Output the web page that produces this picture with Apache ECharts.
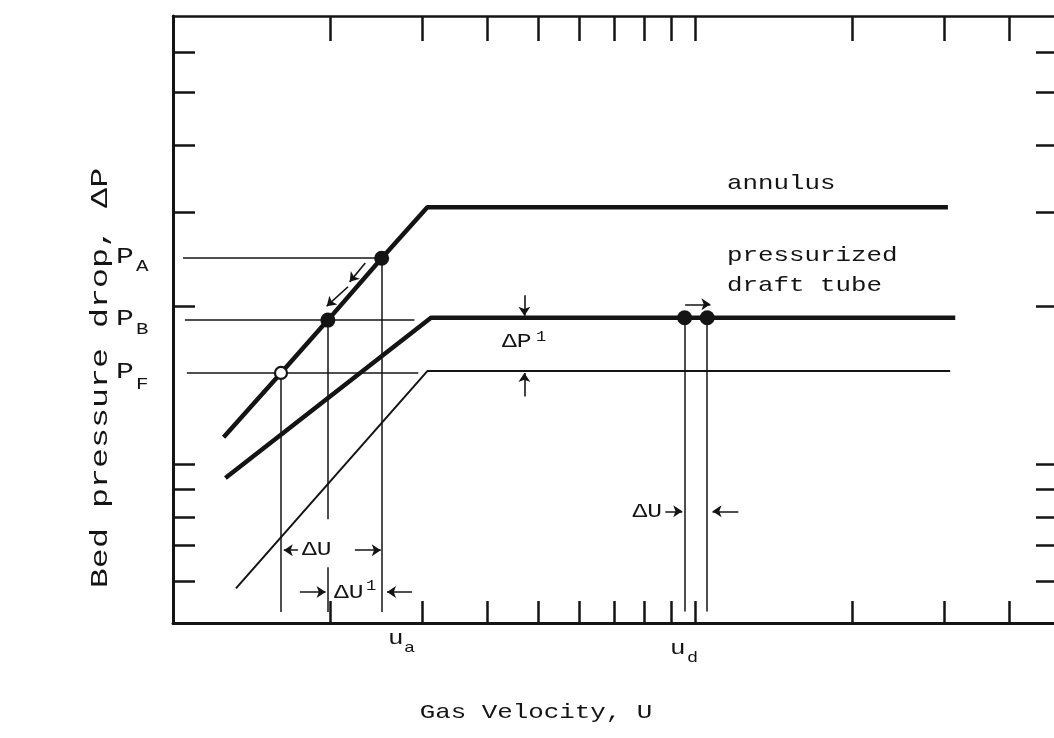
<!DOCTYPE html>
<html>
<head>
<meta charset="utf-8">
<script src="https://cdn.jsdelivr.net/npm/echarts@6/dist/echarts.min.js"></script>
<style>
  html, body { margin: 0; padding: 0; background: #fff; overflow: hidden; }
  #chart { width: 1054px; height: 738px; }
</style>
</head>
<body>
<div id="chart"></div>
<script>
// Gas velocity runs on a logarithmic scale; pressure drop in relative units (0-100).
const xTicks = [2, 3, 4, 5, 6, 7, 8, 9, 10, 20, 30, 40];
const yTicks = [6.8, 12.8, 17.5, 22, 26.1, 52.2, 67.7, 78.7, 87.4, 94];

// Bed pressure drop curves
const annulus   = [[1.25, 30.6], [1.61, 41.2], [1.98, 49.9], [2.51, 60.1], [3.07, 68.5], [30.5, 68.5]];
const draftTube = [[1.26, 23.9], [3.12, 50.3], [31.5, 50.3]];
const baseBed   = [[1.32, 5.7], [3.07, 41.5], [30.8, 41.5]];

// Operating points
const filledPoints = [[1.98, 49.9], [2.51, 60.1], [9.55, 50.3], [10.55, 50.3]];
const openPoints   = [[1.61, 41.2]];

// Pressure levels
const levelA = 60.1, levelB = 49.9, levelF = 41.2;

// Guide segments [[x1, y1], [x2, y2]]
const guides = [
  [[1.045, levelA], [2.51, levelA]],
  [[1.054, levelB], [2.9, levelB]],
  [[1.063, levelF], [2.95, levelF]],
  [[1.61, levelF], [1.61, 1.8]],
  [[1.98, levelB], [1.98, 17.1]],
  [[1.98, 9.2], [1.98, 1.8]],
  [[2.51, levelA], [2.51, 1.8]],
  [[9.55, 50.3], [9.55, 1.9]],
  [[10.55, 50.3], [10.55, 1.9]]
];

// Dimension arrows, tail -> head
const arrows = [
  [[4.71, 54.0], [4.71, 50.6]],
  [[4.71, 37.3], [4.71, 41.2]],
  [[9.57, 52.5], [10.7, 52.5]],
  [[1.735, 12.0], [1.63, 12.0]],
  [[2.23, 12.0], [2.5, 12.0]],
  [[1.75, 5.1], [1.96, 5.1]],
  [[2.87, 5.1], [2.57, 5.1]],
  [[8.77, 18.4], [9.45, 18.4]],
  [[12.1, 18.4], [10.8, 18.4]],
  [[2.335, 59.3], [2.18, 56.2]],
  [[2.164, 55.4], [1.97, 52.2]]
];

const INK = '#141414';
const MONO = '"Liberation Mono", "DejaVu Sans Mono", monospace';

function txt(text, x, y, size, opts) {
  opts = opts || {};
  return {
    type: 'text', x: x, y: y, z: 50,
    scaleX: opts.scaleX || 1.23,
    rotation: opts.rotation || 0,
    style: { text: text, font: size + 'px ' + MONO, fill: INK,
             align: opts.align || 'left', verticalAlign: 'middle' }
  };
}

const chart = echarts.init(document.getElementById('chart'), null, { renderer: 'canvas' });

const tickStyle = { color: INK, width: 2.5 };

chart.setOption({
  animation: false,
  backgroundColor: '#fff',
  grid: { left: 173, top: 16, width: 887, height: 607, outerBoundsMode: 'none', containLabel: false },
  xAxis: [
    { type: 'log', logBase: 10, min: 1, max: 50, position: 'bottom',
      axisLine: { show: true, onZero: false, lineStyle: { color: INK, width: 3 } },
      axisTick: { show: true, inside: true, length: 22, customValues: xTicks, lineStyle: tickStyle },
      axisLabel: { show: false }, splitLine: { show: false }, minorTick: { show: false } },
    { type: 'log', logBase: 10, min: 1, max: 50, position: 'top',
      axisLine: { show: true, onZero: false, lineStyle: { color: INK, width: 2.5 } },
      axisTick: { show: true, inside: true, length: 25, customValues: xTicks, lineStyle: tickStyle },
      axisLabel: { show: false }, splitLine: { show: false } }
  ],
  yAxis: [
    { type: 'value', min: 0, max: 100, position: 'left',
      axisLine: { show: true, onZero: false, lineStyle: { color: INK, width: 3 } },
      axisTick: { show: true, inside: true, length: 22, customValues: yTicks, lineStyle: tickStyle },
      axisLabel: { show: false }, splitLine: { show: false } },
    { type: 'value', min: 0, max: 100, position: 'right',
      axisLine: { show: true, onZero: false, lineStyle: { color: INK, width: 3 } },
      axisTick: { show: true, inside: true, length: 24, customValues: yTicks, lineStyle: tickStyle },
      axisLabel: { show: false }, splitLine: { show: false } }
  ],
  series: [
    { type: 'line', name: 'annulus', data: annulus, showSymbol: false, z: 5,
      lineStyle: { color: INK, width: 4.5 } },
    { type: 'line', name: 'pressurized draft tube', data: draftTube, showSymbol: false, z: 5,
      lineStyle: { color: INK, width: 4.5 } },
    { type: 'line', name: 'bed', data: baseBed, showSymbol: false, z: 5,
      lineStyle: { color: INK, width: 2 } },
    { type: 'lines', coordinateSystem: 'cartesian2d', z: 4,
      data: guides.map(c => ({ coords: c })),
      lineStyle: { color: INK, width: 1.5, opacity: 1, curveness: 0 } },
    { type: 'lines', coordinateSystem: 'cartesian2d', z: 6,
      symbol: ['none', 'arrow'], symbolSize: 9,
      data: arrows.map(c => ({ coords: c })),
      lineStyle: { color: INK, width: 1.6, opacity: 1, curveness: 0 } },
    { type: 'scatter', data: filledPoints, symbolSize: 15, z: 10,
      itemStyle: { color: INK, opacity: 1 } },
    { type: 'scatter', data: openPoints, symbolSize: 12, z: 11,
      itemStyle: { color: '#fff', borderColor: INK, borderWidth: 2.2, opacity: 1 } }
  ],
  graphic: [
    txt('annulus', 727, 183, 21),
    txt('pressurized', 727, 255, 21),
    txt('draft tube', 727, 285, 21),
    txt('Gas Velocity, U', 536, 712, 21, { align: 'center' }),
    txt('Bed pressure drop, \u0394P', 101, 378, 23, { align: 'center', rotation: Math.PI / 2, scaleX: 1.45 }),
    txt('P', 116, 257, 22, { scaleX: 1.35 }), txt('A', 136, 267, 16, { scaleX: 1.3 }),
    txt('P', 116, 319, 22, { scaleX: 1.35 }), txt('B', 136, 330, 16, { scaleX: 1.3 }),
    txt('P', 116, 372, 22, { scaleX: 1.35 }), txt('F', 136, 385, 16, { scaleX: 1.3 }),
    txt('\u0394P', 502, 342, 20), txt('1', 536, 337, 14),
    txt('\u0394U', 302, 550, 20),
    txt('\u0394U', 334, 593, 20), txt('1', 366, 586, 14),
    txt('\u0394U', 662, 512, 20, { align: 'right' }),
    txt('u', 388, 638, 21), txt('a', 404, 648, 15),
    txt('u', 670, 648, 21), txt('d', 687, 658, 15)
  ]
});
</script>
</body>
</html>
